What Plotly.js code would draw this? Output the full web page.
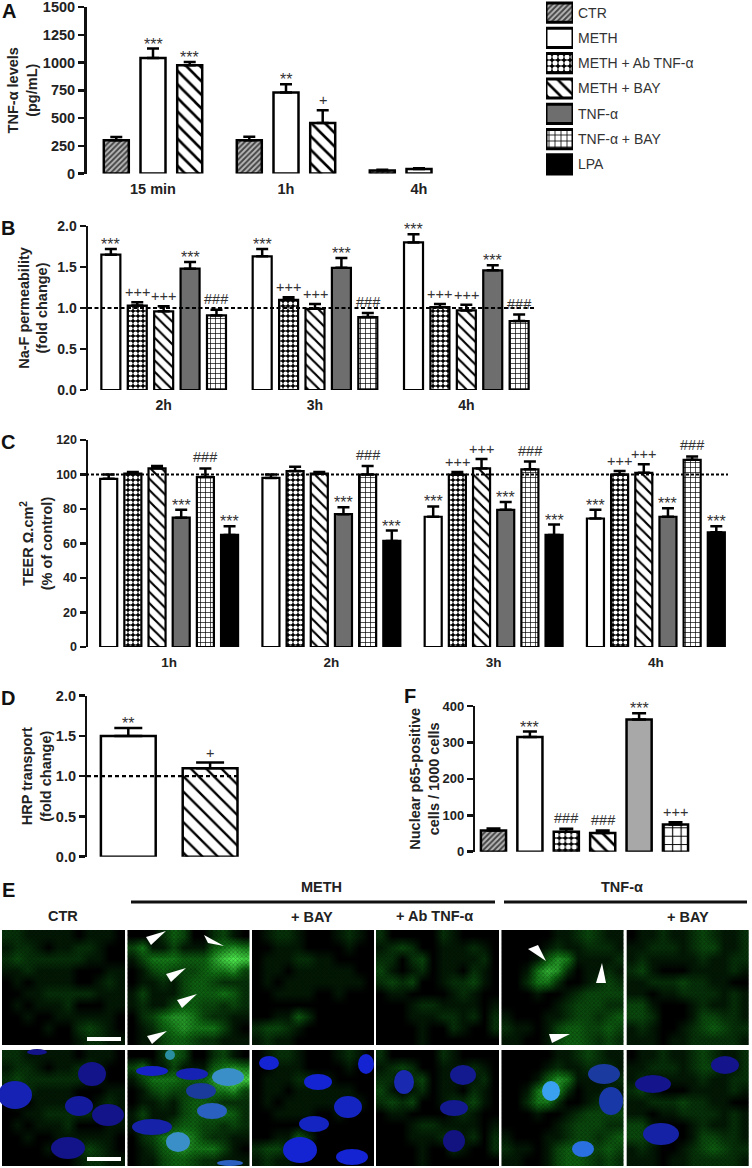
<!DOCTYPE html>
<html>
<head>
<meta charset="utf-8">
<script src="https://cdn.plot.ly/plotly-3.0.1.min.js"></script>
<style>html,body{margin:0;padding:0;background:#fff}</style>
</head>
<body>
<div id="main" style="width:752px;height:1168px"></div>
<script>
const W = 752, H = 1168;

// panel A
const aGroups = ["15 min", "1h", "4h"];
const aNames = ["CTR", "METH", "METH + BAY"];
const aValues = [[300, 300, 28], [1040, 730, 40], [975, 455, null]];
const aErrors = [[28, 30, 6], [85, 75, 8], [30, 115, null]];
const aSig = [["", "", ""], ["***", "**", ""], ["***", "+", ""]];

// panel B
const bGroups = ["2h", "3h", "4h"];
const bNames = ["METH", "METH + Ab TNF-α", "METH + BAY", "TNF-α", "TNF-α + BAY"];
const bValues = [[1.65, 1.63, 1.80], [1.03, 1.10, 1.01], [0.96, 0.99, 0.97], [1.48, 1.49, 1.46], [0.91, 0.89, 0.84]];
const bErrors = [[0.07, 0.09, 0.10], [0.04, 0.03, 0.04], [0.06, 0.06, 0.07], [0.08, 0.12, 0.06], [0.07, 0.05, 0.08]];
const bSig = [["***", "***", "***"], ["+++", "+++", "+++"], ["+++", "+++", "+++"], ["***", "***", "***"], ["###", "###", "###"]];

// panel C
const cGroups = ["1h", "2h", "3h", "4h"];
const cNames = ["METH", "METH + Ab TNF-α", "METH + BAY", "TNF-α", "TNF-α + BAY", "LPA"];
const cValues = [[97.5, 98, 75.5, 74.5], [100.5, 102, 100, 100], [103.5, 100.5, 103.5, 101], [75, 77, 79.5, 75.5], [98.5, 100, 103, 108.5], [65, 61.5, 65, 66.5]];
const cErrors = [[2.5, 2, 6, 5], [1, 2.5, 1.5, 2], [1.5, 1, 5.5, 5], [4.5, 4, 4.5, 5], [5, 5, 4.5, 2], [5, 6, 6, 3.5]];
const cSig = [["", "", "***", "***"], ["", "", "+++", "+++"], ["", "", "+++", "+++"], ["***", "***", "***", "***"], ["###", "###", "###", "###"], ["***", "***", "***", "***"]];

// panel D
const dNames = ["METH", "METH + BAY"];
const dValues = [1.5, 1.1];
const dErrors = [0.1, 0.07];
const dSig = ["**", "+"];

// panel F
const fNames = ["CTR", "METH", "METH + Ab TNF-α", "METH + BAY", "TNF-α", "TNF-α + BAY"];
const fValues = [58, 315, 55, 51, 363, 75];
const fErrors = [6, 15, 8, 7, 17, 6];
const fSig = ["", "***", "###", "###", "***", "+++"];

// legend
const legendNames = ["CTR", "METH", "METH + Ab TNF-α", "METH + BAY", "TNF-α", "TNF-α + BAY", "LPA"];

// panel E, estimated green signal per micrograph column (0-9)
const greenCtr = [
    [2,2,1,1,1,1,1,0,1,1,1,0],[1,2,2,1,0,1,1,2,2,1,0,0],[2,3,2,2,2,2,2,2,1,1,0,0],[1,1,2,1,1,1,1,0,0,0,1,1],
    [0,1,0,1,1,1,1,0,0,1,2,1],[0,0,1,1,2,2,2,2,2,1,1,1],[0,1,0,1,1,1,2,0,0,0,1,1],[0,0,1,0,0,1,1,1,1,1,1,0],
    [0,0,0,0,1,0,0,2,3,2,1,0],[0,0,0,0,0,0,0,1,2,2,1,1]];
const greenMeth = [
    [0,0,0,2,4,3,0,0,2,3,1,0],[3,5,1,1,3,1,1,1,4,5,6,5],[1,3,5,5,5,4,4,4,6,8,9,8],[0,1,3,4,3,3,3,4,5,5,6,3],
    [0,1,1,2,1,3,4,4,3,2,2,2],[1,3,1,1,1,3,4,4,4,5,4,2],[1,2,1,1,3,4,4,3,3,2,3,2],[0,2,3,5,6,6,5,3,2,2,1,1],
    [0,1,2,4,5,6,5,5,5,3,1,0],[0,1,1,3,4,4,3,2,2,1,1,1]];
const greenMethBay = [
    [0,1,2,2,1,0,0,0,1,2,1,0],[0,0,1,1,1,0,0,0,0,1,0,0],[0,1,1,1,2,2,1,1,0,0,0,0],[0,1,1,0,1,1,1,1,1,1,0,0],
    [0,1,0,1,1,1,1,1,1,1,1,0],[0,0,1,1,1,1,0,0,1,0,0,0],[0,0,0,0,0,0,0,0,0,0,0,0],[0,0,1,1,4,2,0,0,0,0,0,0],
    [2,3,3,2,1,0,0,0,0,0,0,0],[1,2,1,1,0,0,0,0,0,0,0,0]];
const greenMethAb = [
    [2,0,0,0,0,0,2,1,0,0,0,0],[1,2,3,2,0,0,1,1,1,2,1,0],[2,2,0,2,3,0,1,1,1,1,2,0],[3,1,0,1,2,0,1,1,0,2,1,0],
    [2,3,2,3,0,0,1,2,2,3,1,0],[0,1,1,0,0,0,0,1,2,1,0,0],[0,0,0,1,2,2,1,1,1,1,0,1],[0,0,0,1,1,1,2,2,1,2,0,2],
    [0,0,0,0,1,0,0,2,1,0,0,2],[0,0,0,0,1,0,0,0,0,0,0,0]];
const greenTnf = [
    [0,0,0,0,0,1,1,2,3,2,1,1],[0,0,0,0,1,2,1,1,2,2,2,1],[0,0,0,1,4,6,5,1,1,1,1,2],[0,0,1,5,7,6,2,0,1,1,2,1],
    [0,0,2,5,5,2,0,0,1,2,3,2],[0,0,0,1,0,0,1,2,3,3,3,3],[0,0,0,0,0,1,2,3,3,3,2,2],[1,0,0,0,1,1,2,3,3,2,3,4],
    [2,1,1,0,1,3,4,4,3,3,4,3],[1,1,0,0,1,3,4,4,3,2,3,2]];
const greenTnfBay = [
    [0,1,1,2,1,1,2,3,2,1,1,2],[1,1,2,2,2,1,2,3,3,1,1,2],[1,2,1,1,1,1,1,2,1,1,2,2],[2,3,1,0,0,0,1,1,1,1,2,1],
    [1,1,2,2,2,3,2,2,1,1,0,0],[1,1,0,1,1,2,2,2,2,1,2,1],[3,3,1,0,0,0,1,2,1,1,2,1],[3,3,2,0,0,0,1,3,3,2,2,1],
    [1,2,1,0,0,1,2,3,4,3,2,2],[1,1,1,0,1,1,2,2,2,2,2,1]];
const greenGrids = [greenCtr, greenMeth, greenMethBay, greenMethAb, greenTnf, greenTnfBay];

// x, y, rx, ry, colour of the stained nuclei in the lower row
const nuclei = [
    [92,1074,14,12,"#13138a"],[15,1095,17,14,"#1622b4"],[79,1106,14,10,"#141a9c"],[108,1115,16,11,"#13138a"],[68,1148,17,11,"#13138a"],[37,1052,10,3,"#13138a"],
    [152,1071,16,5,"#1622c8"],[192,1074,16,6,"#1622b4"],[228,1077,16,9,"#3a8fc9"],[201,1091,15,8,"#1a3a9c"],[212,1111,15,8,"#2a60c0"],[152,1127,20,8,"#1622a8"],[178,1142,12,10,"#3a8fc9"],[230,1163,13,3,"#2a60c0"],[170,1055,5,5,"#2a8fa0"],
    [269,1063,10,7,"#1424d2"],[318,1082,14,8,"#1424d2"],[366,1064,8,10,"#1424d2"],[348,1107,14,11,"#1424c0"],[314,1124,15,8,"#1424c0"],[300,1150,17,13,"#1424d2"],[352,1157,16,8,"#1424d2"],
    [404,1082,10,12,"#1a2ab0"],[463,1075,13,10,"#131a90"],[454,1108,14,8,"#131a90"],[454,1141,11,11,"#121280"],
    [551,1091,9,10,"#3aa0f0"],[604,1074,16,10,"#1a3aa0"],[611,1101,12,14,"#1838a8"],[583,1149,11,8,"#2a70e0"],
    [653,1084,18,9,"#14148c"],[725,1065,14,9,"#14148c"],[661,1134,18,11,"#1522a5"]
];

const arrowheads = [
    [[166,931],[146,937],[151,945]],[[224,946],[204,935],[208,943]],[[186,968],[166,974],[171,982]],
    [[197,994],[177,1000],[182,1008]],[[167,1031],[147,1036],[152,1044]],
    [[546,961],[528,949],[538,945]],[[602,963],[596,983],[606,983]],[[570,1034],[549,1034],[552,1043]]
];

const panelCols = [[2,124.5],[127.5,249],[252,374],[376,499],[501.5,623.7],[626.7,748.7]];
const panelRows = [[930,1045],[1050,1165.7]];

const PAT = {
    "CTR": { fg: "#444", bg: "#b8b8b8", shape: "/", size: 3.2, sol: 0.5 },
    "METH": { fg: "#fff", bg: "#fff", shape: "" },
    "METH + Ab TNF-α": { fg: "#fff", bg: "#000", shape: ".", size: 5, sol: 0.55 },
    "METH + BAY": { fg: "#000", bg: "#fff", shape: "\\", size: 8, sol: 0.27 },
    "TNF-α": { fg: "#6e6e6e", bg: "#6e6e6e", shape: "" },
    "TNF-α + BAY": { fg: "#000", bg: "#fff", shape: "+", size: 5, sol: 0.25 },
    "LPA": { fg: "#000", bg: "#000", shape: "" }
};

const titleFont = { family: "Liberation Sans", size: 14.5, color: "#222", weight: 700 };

function tickFont(size) { return { family: "Liberation Sans", size: size, color: "#222", weight: 700 }; }

function marker(name, lineW, scale, over) {
    const p = Object.assign({}, PAT[name], over || {});
    return {
        color: p.bg,
        line: { color: "#000", width: lineW },
        pattern: { shape: p.shape, fgcolor: p.fg, bgcolor: p.bg, size: (p.size || 4) * scale, solidity: p.sol || 0.3, fillmode: "replace" }
    };
}

function domX(l, r) { return [l / W, r / W]; }
function domY(top, bottom) { return [1 - bottom / H, 1 - top / H]; }

function yAxis(x, top, bottom, range, dtick, title, standoff, size, fmt) {
    return {
        domain: domY(top, bottom), range: range, dtick: dtick, anchor: x, showgrid: false, zeroline: false,
        showline: true, linewidth: 2.5, linecolor: "#111", ticks: "outside", ticklen: 6, tickwidth: 2.5, tickcolor: "#111",
        tickfont: tickFont(size), tickformat: fmt || "d", ticklabeloverflow: "allow",
        title: { text: title, font: titleFont, standoff: standoff }
    };
}

function xAxis(y, l, r, n, size, showLabels) {
    return {
        domain: domX(l, r), range: [-0.5, n - 0.5], type: "category", anchor: y, showgrid: false, zeroline: false,
        showline: false, ticks: "", ticklen: 0, tickfont: tickFont(size), showticklabels: showLabels !== false, ticklabelstandoff: 5
    };
}

const traces = [], annotations = [], shapes = [];

function sigLabels(xa, ya, tops, sig, dx) {
    sig.forEach((s, i) => {
        if (!s) return;
        const kind = s[0];
        annotations.push({
            xref: xa, yref: ya, x: i + dx, y: tops[i], text: s, showarrow: false, yanchor: "bottom",
            yshift: kind === "*" ? -6 : (kind === "#" ? 1 : 0),
            font: { family: "Liberation Sans", size: kind === "*" ? 16 : 14.5, color: "#333" }
        });
    });
}

function groupBars(xa, ya, groups, names, values, errors, sig, slot, bar, lineW, scale) {
    names.forEach((name, k) => {
        const dx = (k - (names.length - 1) / 2) * slot;
        traces.push({
            type: "bar", name: name, xaxis: xa, yaxis: ya, x: groups, y: values[k],
            width: bar, offset: dx - bar / 2, marker: marker(name, lineW, scale),
            error_y: { type: "data", symmetric: false, array: errors[k], arrayminus: errors[k].map(() => 0), color: "#000", thickness: 2.5, width: 6 },
            cliponaxis: false, showlegend: false
        });
        sigLabels(xa, ya, values[k].map((v, i) => v === null ? null : v + errors[k][i]), sig[k], dx);
    });
}

function singleBars(xa, ya, names, values, errors, sig, bar, lineW, scale, capW, over) {
    names.forEach((name, k) => {
        traces.push({
            type: "bar", name: name, xaxis: xa, yaxis: ya, x: [name], y: [values[k]], width: bar,
            marker: marker(name, lineW, scale, over && over[name]),
            error_y: { type: "data", symmetric: false, array: [errors[k]], arrayminus: [0], color: "#000", thickness: 2.5, width: capW },
            cliponaxis: false, showlegend: false
        });
    });
    sigLabels(xa, ya, values.map((v, i) => v + errors[i]), sig, 0);
}

groupBars("x", "y", aGroups, aNames, aValues, aErrors, aSig, 0.276, 0.188, 2.5, 1.2);
groupBars("x2", "y2", bGroups, bNames, bValues, bErrors, bSig, 0.1745, 0.1256, 2.2, 1);
groupBars("x3", "y3", cGroups, cNames, cValues, cErrors, cSig, 0.149, 0.105, 2.2, 1);
singleBars("x4", "y4", dNames, dValues, dErrors, dSig, 0.67, 2.5, 1.2, 14, { "METH + BAY": { size: 9, sol: 0.22 } });
singleBars("x5", "y5", fNames, fValues, fErrors, fSig, 0.69, 2.5, 1.2, 7, {
    "TNF-α": { fg: "#a8a8a8", bg: "#a8a8a8" },
    "TNF-α + BAY": { size: 7 }
});

// legend swatches, one bar per treatment on a category axis
legendNames.forEach(n => traces.push({
    type: "bar", orientation: "h", xaxis: "x7", yaxis: "y7", y: [n], x: [1], width: 0.76,
    marker: marker(n, 3, 1.2), cliponaxis: false, showlegend: false
}));

// micrographs: same green field top and bottom
panelRows.forEach(row => {
    panelCols.forEach((col, c) => {
        const z = greenGrids[c];
        const dx = (col[1] - col[0]) / z[0].length, dy = (row[1] - row[0]) / z.length;
        traces.push({
            type: "heatmap", xaxis: "x6", yaxis: "y6", z: z, x0: col[0] + dx / 2, dx: dx, y0: row[0] + dy / 2, dy: dy,
            zmin: 0, zmax: 9, zsmooth: "best", showscale: false, hoverinfo: "skip",
            colorscale: [[0, "#000"], [0.12, "#021a04"], [0.5, "#0f6a12"], [1, "#50f050"]]
        });
        // grain over the green field
        traces.push({
            type: "bar", xaxis: "x6", yaxis: "y6", x: [(col[0] + col[1]) / 2], y: [row[1] - row[0]], base: [row[0]],
            width: col[1] - col[0], showlegend: false, hoverinfo: "skip",
            marker: { color: "rgba(0,0,0,0)", line: { width: 0 }, pattern: { shape: "x", fgcolor: "rgba(0,0,0,0.55)", bgcolor: "rgba(0,0,0,0)", size: 3, solidity: 0.45, fillmode: "overlay" } }
        });
    });
});

nuclei.forEach(n => shapes.push({
    type: "circle", xref: "x6", yref: "y6", x0: n[0] - n[2], x1: n[0] + n[2], y0: n[1] - n[3], y1: n[1] + n[3],
    fillcolor: n[4], line: { width: 0 }
}));
arrowheads.forEach(t => shapes.push({
    type: "path", xref: "x6", yref: "y6",
    path: "M" + t.map(p => p[0] + "," + p[1]).join("L") + "Z", fillcolor: "#fff", line: { width: 0 }
}));
[[87, 121, 1039], [87, 121, 1159]].forEach(s => shapes.push({
    type: "line", xref: "x6", yref: "y6", x0: s[0], x1: s[1], y0: s[2], y1: s[2], line: { color: "#fff", width: 4 }
}));
[[131, 495], [504, 747]].forEach(s => shapes.push({
    type: "line", xref: "x6", yref: "y6", x0: s[0], x1: s[1], y0: 902, y1: 902, line: { color: "#111", width: 3 }
}));

// dashed reference lines
[["y2", 1, 88, 536, "4px,2.5px"], ["y3", 100, 86, 728, "3px,2px"], ["y4", 1, 87, 240, "4px,3px"]].forEach(d => shapes.push({
    type: "line", xref: "paper", yref: d[0], x0: d[2] / W, x1: d[3] / W, y0: d[1], y1: d[1], line: { color: "#000", width: 2.2, dash: d[4] }
}));

// panel letters and micrograph headers
[["A", 9, 11], ["B", 8, 228], ["C", 8, 442], ["D", 8, 698], ["E", 8, 890], ["F", 410, 696]].forEach(p => annotations.push({
    xref: "paper", yref: "paper", x: p[1] / W, y: 1 - p[2] / H, xanchor: "center", yanchor: "middle", text: p[0], showarrow: false,
    font: { family: "Liberation Sans", size: 20, color: "#111", weight: 700 }
}));
[["CTR", 63, 916], ["METH", 321, 887], ["+ BAY", 312, 917], ["+ Ab TNF-α", 434, 916], ["TNF-α", 622, 887], ["+ BAY", 688, 917]].forEach(p => annotations.push({
    xref: "paper", yref: "paper", x: p[1] / W, y: 1 - p[2] / H, xanchor: "center", yanchor: "middle", text: p[0], showarrow: false,
    font: { family: "Liberation Sans", size: 14.5, color: "#222", weight: 700 }
}));

const layout = {
    width: W, height: H, margin: { l: 0, r: 0, t: 0, b: 0, pad: 0 }, paper_bgcolor: "#fff", plot_bgcolor: "rgba(0,0,0,0)",
    barmode: "overlay", showlegend: false, annotations: annotations, shapes: shapes,
    xaxis: xAxis("y", 86.5, 485.5, 3, 14.5),
    yaxis: yAxis("x", 7, 173.5, [0, 1500], 250, "TNF-α levels<br>(pg/mL)", 2, 14.5),
    xaxis2: xAxis("y2", 88, 542, 3, 14),
    yaxis2: yAxis("x2", 226, 390, [0, 2], 0.5, "Na-F permeability<br>(fold change)", 6, 14, ".1f"),
    xaxis3: xAxis("y3", 88, 737, 4, 13.5),
    yaxis3: yAxis("x3", 440, 647, [0, 120], 20, "TEER Ω.cm<sup>2</sup><br>(% of control)", 0, 12.5),
    xaxis4: xAxis("y4", 87.4, 251, 2, 14, false),
    yaxis4: yAxis("x4", 695.7, 856.7, [0, 2], 0.5, "HRP transport<br>(fold change)", 1, 14.5, ".1f"),
    xaxis5: xAxis("y5", 475.3, 693.7, 6, 13, false),
    yaxis5: yAxis("x5", 706, 851.7, [0, 400], 100, "Nuclear p65-positive<br>cells / 1000 cells", 0, 13),
    xaxis6: { domain: [0, 1], range: [0, W], anchor: "y6", visible: false },
    yaxis6: { domain: [0, 1 - 880 / H], range: [H, 880], anchor: "x6", visible: false },
    xaxis7: { domain: domX(546, 573), range: [0, 1], anchor: "y7", visible: false },
    yaxis7: {
        domain: domY(0, 177), type: "category", autorange: "reversed", anchor: "x7", side: "right",
        showgrid: false, zeroline: false, showline: false, ticks: "", ticklabelstandoff: 4,
        tickfont: { family: "Liberation Sans", size: 14, color: "#333" }
    }
};

Plotly.newPlot("main", traces, layout, { displayModeBar: false, staticPlot: true });
</script>
</body>
</html>
